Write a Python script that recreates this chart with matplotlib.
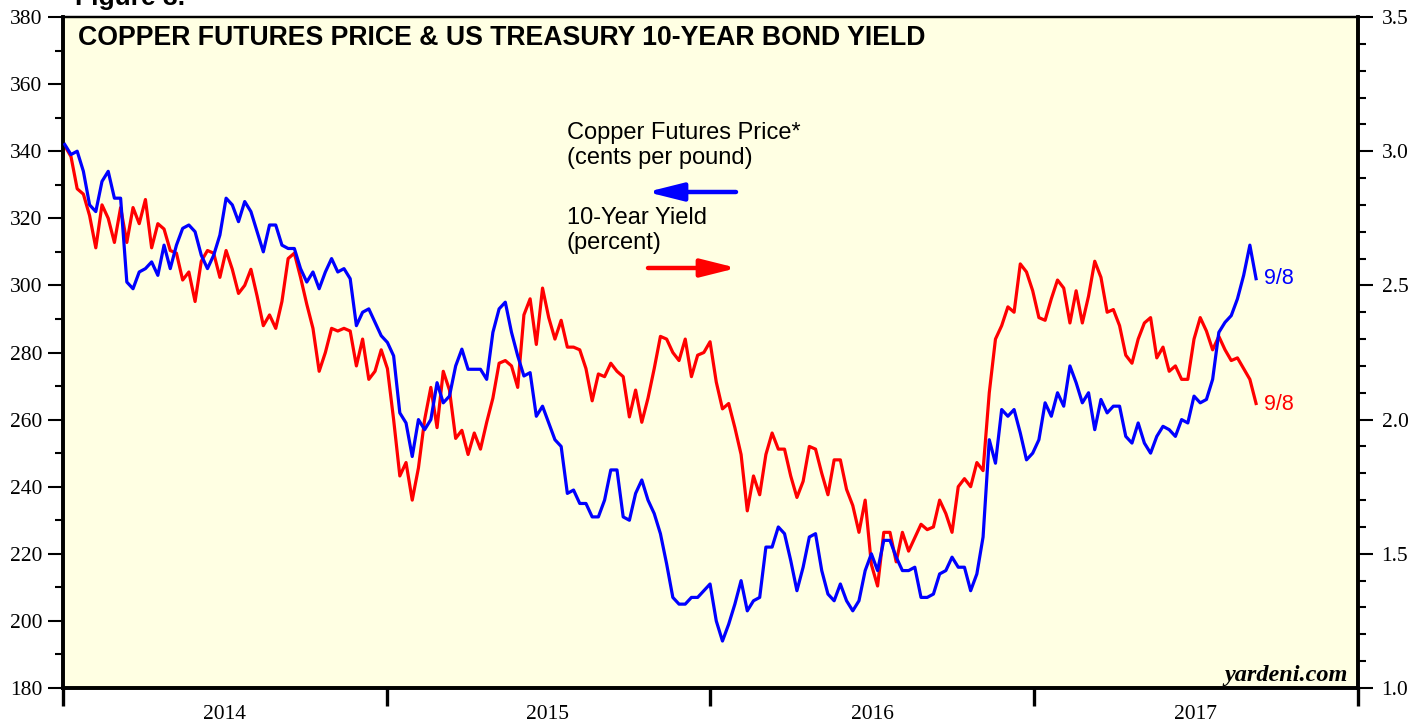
import matplotlib
matplotlib.use("Agg")
import matplotlib.pyplot as plt
import matplotlib.dates as mdates
from matplotlib.ticker import FixedLocator, NullFormatter, MultipleLocator, FormatStrFormatter
import pandas as pd
import numpy as np

# ---------------- data (weekly, Fridays, Jan 3 2014 - Sep 8 2017) ----------------
start_date = "2014-01-03"
end_date = "2017-09-08"

copper = [
    342, 339, 340, 334, 324, 322, 331, 334, 326, 326,
    301, 299, 304, 305, 307, 303, 312, 305, 312, 317,
    318, 316, 309, 305, 309, 315, 326, 324, 319, 325,
    322, 316, 310, 318, 318, 312, 311, 311, 305, 301,
    304, 299, 304, 308, 304, 305, 302, 288, 292, 293,
    289, 285, 283, 279, 262, 259, 249, 260, 257, 260,
    271, 265, 267, 276, 281, 275, 275, 275, 272, 286,
    293, 295, 286, 279, 273, 274, 261, 264, 259, 254,
    252, 238, 239, 235, 235, 231, 231, 236, 245, 245,
    231, 230, 238, 242, 236, 232, 226, 217, 207, 205,
    205, 207, 207, 209, 211, 200, 194, 199, 205, 212,
    203, 206, 207, 222, 222, 228, 226, 218, 209, 216,
    225, 226, 215, 208, 206, 211, 206, 203, 206, 215,
    220, 215, 224, 224, 219, 215, 215, 216, 207, 207,
    208, 214, 215, 219, 216, 216, 209, 214, 225, 254,
    247, 263, 261, 263, 256, 248, 250, 254, 265, 261,
    268, 264, 276, 271, 265, 268, 257, 266, 262, 264,
    264, 255, 253, 259, 253, 250, 255, 258, 257, 255,
    260, 259, 267, 265, 266, 272, 286, 289, 291, 296,
    303, 312, 302,
]

yield10 = [
    3.02, 2.98, 2.86, 2.84, 2.76, 2.64, 2.80, 2.75, 2.66, 2.79,
    2.66, 2.79, 2.73, 2.82, 2.64, 2.73, 2.71, 2.63, 2.62, 2.52,
    2.55, 2.44, 2.59, 2.63, 2.62, 2.53, 2.63, 2.56, 2.47, 2.50,
    2.56, 2.46, 2.35, 2.39, 2.34, 2.44, 2.60, 2.62, 2.53, 2.43,
    2.34, 2.18, 2.25, 2.34, 2.33, 2.34, 2.33, 2.20, 2.30, 2.15,
    2.18, 2.26, 2.19, 2.00, 1.79, 1.84, 1.70, 1.82, 2.00, 2.12,
    1.97, 2.18, 2.11, 1.93, 1.96, 1.87, 1.95, 1.89, 1.99, 2.08,
    2.21, 2.22, 2.20, 2.12, 2.39, 2.45, 2.28, 2.49, 2.38, 2.30,
    2.37, 2.27, 2.27, 2.26, 2.19, 2.07, 2.17, 2.16, 2.21, 2.18,
    2.16, 2.01, 2.11, 1.99, 2.08, 2.19, 2.31, 2.30, 2.25, 2.22,
    2.30, 2.16, 2.24, 2.25, 2.29, 2.14, 2.04, 2.06, 1.97, 1.87,
    1.66, 1.79, 1.72, 1.87, 1.95, 1.89, 1.89, 1.79, 1.71, 1.77,
    1.90, 1.89, 1.80, 1.72, 1.85, 1.85, 1.74, 1.68, 1.58, 1.70,
    1.46, 1.38, 1.58, 1.58, 1.47, 1.58, 1.51, 1.56, 1.61, 1.59,
    1.60, 1.70, 1.65, 1.58, 1.75, 1.78, 1.75, 1.84, 1.81, 2.10,
    2.30, 2.35, 2.42, 2.40, 2.58, 2.55, 2.48, 2.38, 2.37, 2.45,
    2.52, 2.49, 2.36, 2.48, 2.36, 2.46, 2.59, 2.53, 2.40, 2.41,
    2.35, 2.24, 2.21, 2.30, 2.36, 2.38, 2.23, 2.27, 2.18, 2.20,
    2.15, 2.15, 2.30, 2.38, 2.33, 2.26, 2.31, 2.26, 2.22, 2.23,
    2.19, 2.15, 2.06,
]

year_labels = ["2014", "2015", "2016", "2017"]
left_ticks = [180, 200, 220, 240, 260, 280, 300, 320, 340, 360, 380]
right_ticks = [1.0, 1.5, 2.0, 2.5, 3.0, 3.5]

dates = pd.date_range(start=start_date, end=end_date, freq="W-FRI")

# ---------------- figure ----------------
W, H = 1424, 723
fig = plt.figure(figsize=(W / 100, H / 100), dpi=100, facecolor="white")

L, R, T, B = 63, 1358, 17, 688
BG = "#FFFFE3"
fig.patches.append(plt.Rectangle((L / W, 1 - B / H), (R - L) / W, (B - T) / H,
                                 transform=fig.transFigure, facecolor=BG,
                                 edgecolor="none", zorder=-5))
ax = fig.add_axes([L / W, 1 - B / H, (R - L) / W, (B - T) / H])
ax2 = ax.twinx()

BLUE = "#0000FF"
RED = "#FF0000"

ax2.plot(dates, yield10, color=RED, lw=2.3, zorder=3)
ax.plot(dates, copper, color=BLUE, lw=2.3, zorder=3)
ax.set_zorder(ax2.get_zorder() + 1)
ax.patch.set_visible(False)
ax2.patch.set_visible(False)

xmin = pd.Timestamp("2014-01-01")
xmax = pd.Timestamp("2018-01-01")
ax.set_xlim(xmin, xmax)
ax.set_ylim(180, 380)
ax2.set_ylim(1.0, 3.5)

serif = ["Liberation Serif", "DejaVu Serif"]
sans = ["Liberation Sans", "DejaVu Sans"]
TICK_FS = 15.5

# x ticks: year boundaries (major, unlabeled), mid-year labels (minor)
year_starts = [pd.Timestamp(f"{y}-01-01") for y in range(2014, 2019)]
mid_years = [pd.Timestamp(f"{y}-07-02") for y in year_labels]
ax.xaxis.set_major_locator(FixedLocator(mdates.date2num(year_starts)))
ax.xaxis.set_major_formatter(NullFormatter())
ax.xaxis.set_minor_locator(FixedLocator(mdates.date2num(mid_years)))
ax.xaxis.set_minor_formatter(matplotlib.ticker.FixedFormatter(year_labels))
ax.tick_params(axis="x", which="major", direction="out", length=13, width=2.4, color="black")
ax.tick_params(axis="x", which="minor", length=0, pad=12, labelsize=TICK_FS)
for lab in ax.xaxis.get_minorticklabels():
    lab.set_family(serif)

# left y ticks
ax.yaxis.set_major_locator(FixedLocator(left_ticks))
ax.yaxis.set_minor_locator(MultipleLocator(10))
ax.yaxis.set_major_formatter(FormatStrFormatter("%d"))
ax.tick_params(axis="y", which="major", direction="out", length=11, width=1.5, labelsize=TICK_FS, pad=4)
ax.tick_params(axis="y", which="minor", direction="out", length=6, width=1.5)
for lab in ax.get_yticklabels():
    lab.set_family(serif)

# right y ticks
ax2.yaxis.set_major_locator(FixedLocator(right_ticks))
ax2.yaxis.set_minor_locator(MultipleLocator(0.1))
ax2.yaxis.set_major_formatter(FormatStrFormatter("%.1f"))
ax2.tick_params(axis="y", which="major", direction="out", length=11, width=1.5, labelsize=TICK_FS, pad=6)
ax2.tick_params(axis="y", which="minor", direction="out", length=6, width=1.5)
for lab in ax2.get_yticklabels():
    lab.set_family(serif)

for a in (ax, ax2):
    for s in ("left", "right", "bottom"):
        a.spines[s].set_linewidth(2.6)
    a.spines["top"].set_linewidth(1.6)
ax2.xaxis.set_visible(False)

# ---------------- texts ----------------
def fx(px):
    return px / W

def fy(py):
    return 1 - py / H

fig.text(fx(78), fy(38), "COPPER FUTURES PRICE & US TREASURY 10-YEAR BOND YIELD",
         fontsize=19.2, fontweight="bold", family=sans, va="center", ha="left")
fig.text(fx(75), fy(-2), "Figure 3.", fontsize=19, fontweight="bold", family=sans,
         va="center", ha="left")

LEG_FS = 17
fig.text(fx(567), fy(133), "Copper Futures Price*", fontsize=LEG_FS, family=sans, va="center", ha="left")
fig.text(fx(567), fy(158), "(cents per pound)", fontsize=LEG_FS, family=sans, va="center", ha="left")
fig.text(fx(567), fy(218), "10-Year Yield", fontsize=LEG_FS, family=sans, va="center", ha="left")
fig.text(fx(567), fy(243), "(percent)", fontsize=LEG_FS, family=sans, va="center", ha="left")

arrow_kw = dict(arrowstyle="-|>,head_length=1.8,head_width=0.45", lw=3.2, shrinkA=0, shrinkB=0)
fig.add_artist(matplotlib.patches.FancyArrowPatch((fx(736), fy(192)), (fx(647), fy(192)),
               transform=fig.transFigure, color=BLUE, mutation_scale=12, **arrow_kw))
fig.add_artist(matplotlib.patches.FancyArrowPatch((fx(648), fy(268)), (fx(737), fy(268)),
               transform=fig.transFigure, color=RED, mutation_scale=12, **arrow_kw))

fig.text(fx(1264), fy(279), "9/8", fontsize=15.5, family=sans, color=BLUE, va="center", ha="left")
fig.text(fx(1264), fy(404), "9/8", fontsize=15.5, family=sans, color=RED, va="center", ha="left")

fig.text(fx(1348), fy(675), "yardeni.com", fontsize=17.5, family=serif, fontweight="bold",
         style="italic", va="center", ha="right")

fig.savefig("out.png", dpi=100, facecolor="white")
